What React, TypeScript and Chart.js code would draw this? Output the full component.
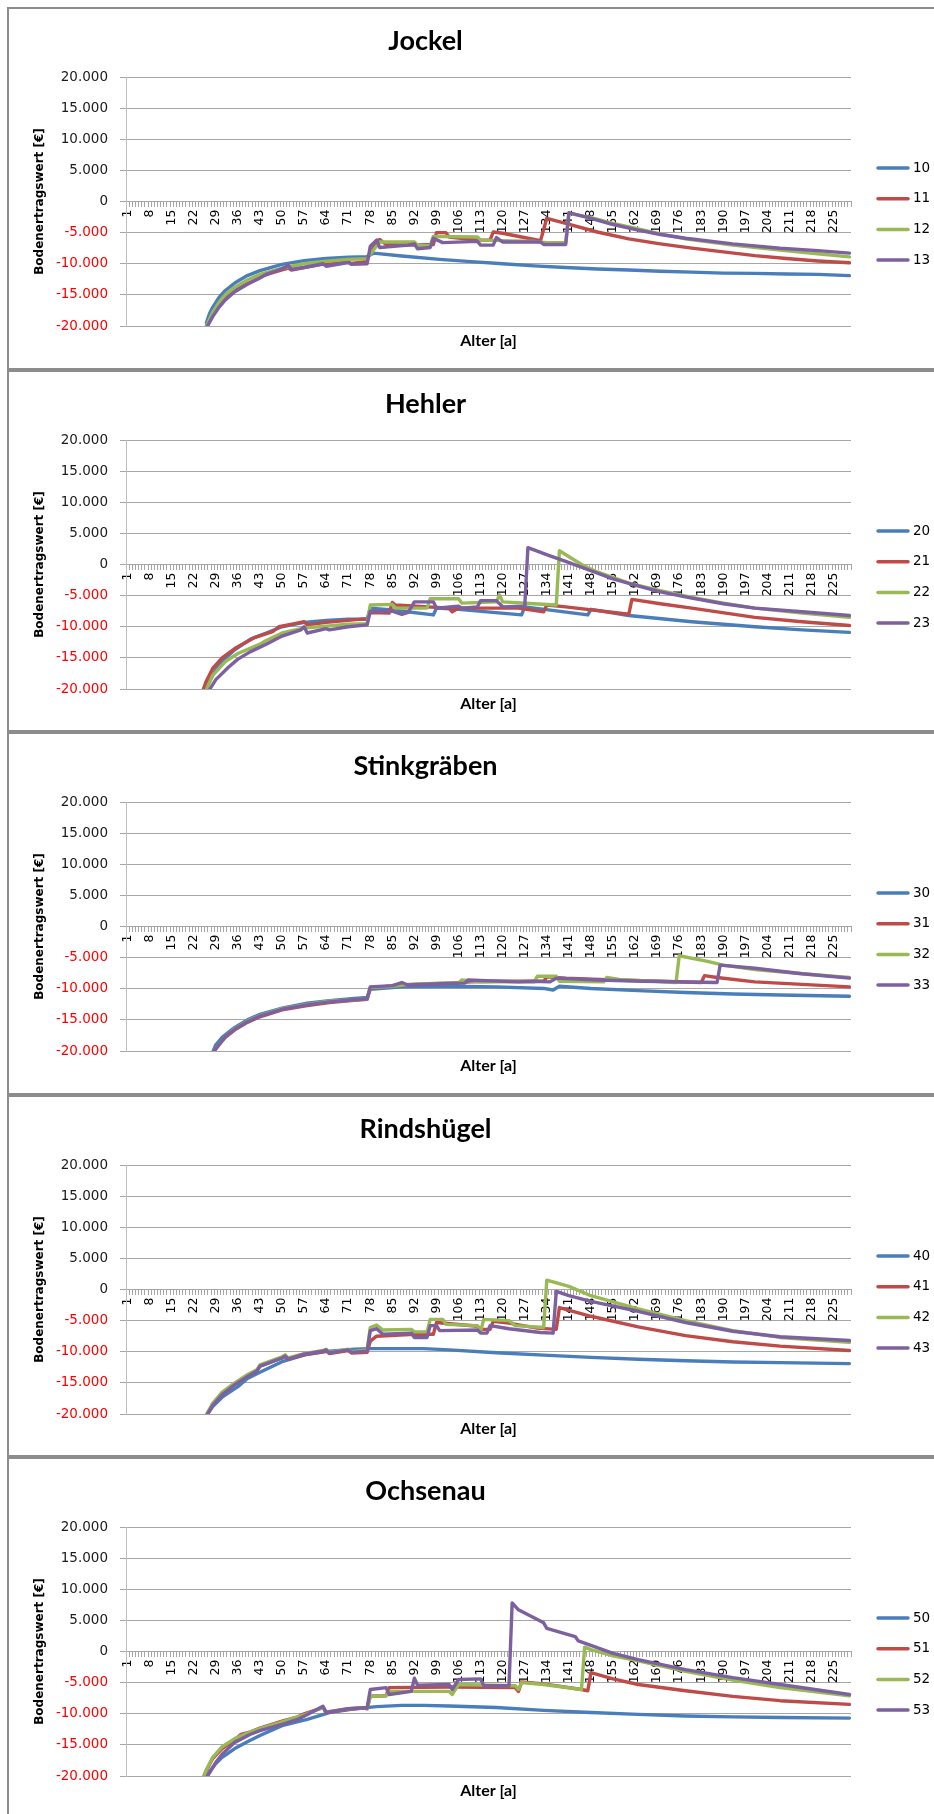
import React, { useEffect, useRef } from 'react';
import { Chart, registerables } from 'chart.js';

Chart.register(...registerables);

// ---------- categories / tick labels ----------
const ages: number[] = Array.from({ length: 230 }, (_, i) => i + 1);
const shownAgeLabels = [1, 8, 15, 22, 29, 36, 43, 50, 57, 64, 71, 78, 85, 92, 99, 106, 113, 120, 127, 134, 141, 148, 155, 162, 169, 176, 183, 190, 197, 204, 211, 218, 225];
const yTickValues = [-20000, -15000, -10000, -5000, 0, 5000, 10000, 15000, 20000];
const seriesColors = ['#4A7EBB', '#BE4B48', '#98B954', '#7D60A0'];

// ---------- Jockel ----------
const jockel10 = [[26,-19500],[27,-18000],[28,-17000],[30,-15400],[32,-14300],[35,-13100],[39,-11900],[43,-11100],[50,-10100],[57,-9500],[64,-9150],[71,-8950],[77,-8850],[79,-8300],[88,-8750],[100,-9300],[110,-9650],[120,-10000],[130,-10350],[140,-10600],[150,-10850],[160,-11000],[170,-11200],[180,-11350],[190,-11500],[200,-11550],[210,-11650],[220,-11700],[230,-11900]];
const jockel11 = [[26,-20300],[28,-18300],[30,-16700],[32,-15500],[35,-14300],[39,-13200],[42,-12500],[43,-12100],[46,-11600],[50,-11000],[52,-10700],[53,-11000],[57,-10600],[63,-10050],[66,-10000],[71,-9700],[72,-9950],[76,-9700],[78,-8400],[80,-6300],[81,-6100],[83,-6900],[92,-7000],[98,-6900],[99,-5000],[102,-5000],[103,-5700],[112,-6200],[116,-6200],[117,-4900],[120,-5100],[130,-6100],[132,-6300],[134,-2700],[140,-3500],[150,-4900],[160,-6000],[170,-6800],[180,-7500],[190,-8100],[200,-8700],[210,-9150],[220,-9550],[230,-9850]];
const jockel12 = [[26,-20000],[28,-17800],[30,-16200],[32,-15000],[35,-13800],[39,-12600],[43,-11700],[50,-10700],[57,-10000],[64,-9600],[71,-9300],[77,-9200],[79,-7800],[81,-6500],[92,-6500],[93,-7100],[97,-7100],[98,-5600],[112,-5700],[113,-6200],[130,-6400],[134,-6600],[140,-6600],[141,-1900],[148,-2600],[155,-3500],[163,-4400],[170,-5200],[178,-6000],[193,-7000],[208,-7800],[220,-8400],[230,-8900]];
const jockel13 = [[26,-20300],[28,-18500],[30,-17000],[32,-15800],[35,-14500],[39,-13300],[43,-12300],[45,-11700],[50,-10800],[52,-10300],[53,-10900],[57,-10600],[63,-10000],[64,-10400],[71,-9800],[72,-10100],[77,-10000],[78,-7200],[80,-6200],[81,-7400],[90,-7000],[92,-6800],[93,-7600],[97,-7400],[98,-5900],[101,-6600],[112,-6400],[113,-7000],[117,-7000],[118,-5800],[120,-6500],[132,-6500],[133,-6900],[140,-6900],[141,-1800],[148,-2700],[155,-3700],[163,-4600],[170,-5300],[178,-5900],[193,-6800],[208,-7500],[220,-7900],[230,-8300]];

// ---------- Hehler ----------
const hehler20 = [[26,-19800],[27,-18700],[30,-16000],[35,-13700],[40,-12000],[45,-11000],[50,-10000],[57,-9300],[64,-9000],[71,-8800],[77,-8800],[78,-7000],[85,-7300],[98,-8100],[99,-7000],[106,-7200],[126,-8100],[127,-6800],[147,-8100],[148,-7200],[160,-8200],[180,-9200],[200,-10000],[215,-10500],[230,-10900]];
const hehler21 = [[25,-20100],[26,-18700],[28,-16700],[31,-15000],[35,-13500],[41,-11800],[47,-10800],[49,-10000],[54,-9500],[57,-9200],[58,-9700],[64,-9300],[77,-8700],[78,-7700],[84,-7800],[85,-6100],[86,-6500],[103,-7000],[104,-7600],[106,-7000],[125,-7000],[133,-7600],[134,-6500],[140,-6800],[160,-8000],[161,-5600],[170,-6300],[180,-7000],[200,-8500],[215,-9200],[230,-9800]];
const hehler22 = [[26,-20100],[28,-17800],[32,-15600],[36,-14300],[43,-12800],[45,-12200],[50,-11000],[57,-10200],[64,-9900],[71,-9600],[77,-9500],[78,-6500],[85,-6400],[86,-7000],[96,-7000],[97,-5500],[106,-5500],[107,-6200],[118,-6000],[119,-4900],[120,-6000],[130,-6300],[137,-6500],[138,2200],[145,0],[150,-1200],[160,-3000],[170,-4200],[180,-5300],[190,-6200],[200,-7000],[215,-7800],[230,-8500]];
const hehler23 = [[27,-20100],[29,-18500],[33,-16500],[36,-15200],[40,-14000],[45,-12800],[50,-11500],[56,-10500],[57,-10000],[58,-11000],[64,-10300],[65,-10500],[71,-10000],[77,-9700],[78,-7500],[85,-7500],[88,-8000],[90,-7700],[92,-6000],[98,-6000],[99,-7000],[106,-6700],[107,-7000],[112,-6800],[113,-5800],[118,-5800],[120,-6800],[127,-6700],[128,2700],[135,1400],[140,500],[148,-1000],[155,-2300],[162,-3300],[170,-4400],[180,-5400],[190,-6300],[200,-7000],[215,-7600],[230,-8200]];

// ---------- Stinkgräben ----------
const stink30 = [[28,-20200],[29,-19000],[31,-17800],[35,-16200],[39,-15000],[43,-14100],[50,-13100],[58,-12300],[65,-11900],[72,-11600],[77,-11400],[78,-10100],[88,-9700],[103,-9600],[118,-9700],[133,-9950],[136,-10200],[138,-9600],[148,-9950],[163,-10300],[178,-10600],[193,-10850],[208,-11000],[230,-11200]];
const stink31 = [[28,-20300],[30,-19000],[32,-17800],[35,-16600],[39,-15400],[43,-14500],[50,-13400],[58,-12700],[65,-12200],[72,-11900],[77,-11700],[78,-9900],[88,-9400],[103,-9100],[110,-8900],[118,-8800],[133,-8800],[134,-8100],[140,-8300],[155,-8600],[170,-8800],[183,-9000],[184,-7900],[188,-8200],[200,-8900],[215,-9300],[230,-9700]];
const stink32 = [[28,-20300],[30,-19000],[32,-17700],[35,-16400],[39,-15200],[43,-14300],[50,-13200],[58,-12500],[65,-12000],[72,-11800],[77,-11600],[78,-9800],[85,-9600],[90,-9300],[100,-9100],[106,-9100],[107,-8600],[113,-8900],[130,-8900],[131,-8000],[137,-8000],[138,-8800],[152,-8900],[153,-8200],[157,-8500],[175,-9000],[176,-4700],[185,-5600],[190,-6200],[200,-6900],[215,-7600],[230,-8200]];
const stink33 = [[28,-20300],[30,-19000],[32,-17700],[35,-16500],[39,-15300],[43,-14400],[50,-13300],[58,-12600],[65,-12100],[72,-11800],[77,-11600],[78,-9700],[85,-9500],[88,-9000],[90,-9400],[100,-9200],[108,-9100],[109,-8600],[125,-8900],[130,-8800],[135,-8900],[137,-8300],[150,-8600],[165,-8800],[188,-9000],[189,-6200],[200,-6700],[215,-7600],[230,-8300]];

// ---------- Rindshügel ----------
const rinds40 = [[26,-20300],[28,-18800],[31,-17300],[36,-15600],[39,-14300],[43,-13300],[50,-11600],[58,-10400],[65,-9900],[73,-9600],[78,-9500],[95,-9500],[103,-9700],[118,-10150],[133,-10550],[148,-10900],[163,-11200],[178,-11450],[193,-11650],[208,-11750],[230,-11900]];
const rinds41 = [[26,-20300],[28,-18500],[31,-16900],[35,-15200],[39,-13900],[42,-13100],[43,-12300],[50,-11000],[51,-10700],[52,-11200],[57,-10500],[63,-10000],[64,-9800],[65,-10300],[71,-9800],[72,-10200],[77,-10100],[78,-8300],[80,-7500],[92,-7200],[98,-7200],[99,-5300],[112,-5900],[113,-6400],[116,-6400],[117,-5100],[122,-5400],[131,-6200],[137,-6400],[138,-2900],[148,-4300],[163,-6000],[178,-7400],[193,-8400],[208,-9100],[230,-9800]];
const rinds42 = [[26,-20100],[28,-18300],[31,-16500],[35,-15000],[39,-13700],[42,-12900],[43,-12100],[50,-10800],[51,-10500],[52,-11000],[57,-10300],[63,-9800],[64,-9600],[65,-10100],[71,-9600],[72,-10000],[77,-9700],[78,-6100],[80,-5700],[82,-6500],[91,-6400],[92,-6800],[96,-6800],[97,-4800],[101,-4800],[102,-5600],[112,-5800],[113,-6700],[114,-4800],[122,-5000],[124,-5800],[133,-6100],[134,1500],[141,500],[148,-1000],[155,-2000],[163,-3100],[178,-5000],[193,-6600],[208,-7700],[230,-8500]];
const rinds43 = [[26,-20300],[28,-18600],[31,-16900],[35,-15300],[39,-14000],[42,-13100],[43,-12300],[50,-11000],[51,-10700],[52,-11200],[57,-10400],[63,-9900],[64,-9700],[65,-10200],[71,-9700],[72,-10100],[77,-9900],[78,-6600],[80,-6300],[82,-7200],[91,-7000],[92,-7700],[96,-7700],[97,-5800],[99,-5800],[100,-6600],[112,-6500],[113,-7000],[115,-7000],[116,-5800],[122,-6300],[132,-6900],[136,-7000],[137,-300],[141,-1000],[148,-1900],[163,-3500],[178,-5300],[193,-6700],[208,-7600],[230,-8200]];

// ---------- Ochsenau ----------
const ochs50 = [[26,-20300],[27,-19300],[29,-18000],[31,-17000],[35,-15600],[39,-14500],[43,-13500],[50,-11900],[58,-10900],[65,-9800],[73,-9200],[80,-8850],[88,-8650],[95,-8650],[103,-8750],[118,-9000],[133,-9450],[148,-9800],[163,-10100],[178,-10350],[193,-10500],[208,-10600],[230,-10700]];
const ochs51 = [[25,-20300],[26,-19100],[28,-17200],[31,-15600],[35,-14200],[37,-13300],[40,-12900],[43,-12300],[50,-11200],[55,-10500],[57,-10000],[63,-9000],[64,-9800],[71,-9300],[76,-9100],[77,-9200],[78,-7200],[83,-7100],[84,-5800],[104,-5700],[124,-5800],[125,-6400],[126,-4900],[133,-5200],[145,-6100],[147,-6300],[148,-3400],[155,-4400],[163,-5300],[178,-6300],[193,-7200],[208,-7900],[230,-8500]];
const ochs52 = [[25,-20300],[26,-19000],[28,-17000],[31,-15300],[35,-14000],[40,-12900],[43,-12400],[50,-11300],[57,-10200],[63,-9000],[64,-9700],[71,-9200],[77,-9000],[78,-7200],[83,-7100],[84,-6400],[103,-6400],[104,-6900],[106,-5300],[124,-5500],[125,-6100],[126,-5000],[133,-5300],[145,-6100],[146,700],[148,300],[155,-700],[163,-1500],[178,-3200],[193,-4600],[208,-5800],[230,-7100]];
const ochs53 = [[26,-20300],[27,-19500],[29,-17800],[31,-16500],[35,-14600],[40,-13300],[43,-12700],[50,-11700],[55,-10900],[57,-10400],[63,-8800],[64,-9800],[71,-9200],[77,-9000],[78,-6100],[83,-5800],[84,-6900],[91,-6400],[92,-4300],[93,-5400],[103,-5300],[104,-6100],[106,-4500],[113,-4400],[114,-5500],[122,-5500],[123,7800],[125,6700],[133,4600],[134,3700],[143,2400],[144,1700],[148,1000],[155,-300],[163,-1300],[178,-2900],[193,-4200],[208,-5300],[230,-6900]];

const panelTitles = ['Jockel', 'Hehler', 'Stinkgräben', 'Rindshügel', 'Ochsenau'];
const panelSeriesNames = [['10', '11', '12', '13'], ['20', '21', '22', '23'], ['30', '31', '32', '33'], ['40', '41', '42', '43'], ['50', '51', '52', '53']];
const panelSeries = [
  [jockel10, jockel11, jockel12, jockel13],
  [hehler20, hehler21, hehler22, hehler23],
  [stink30, stink31, stink32, stink33],
  [rinds40, rinds41, rinds42, rinds43],
  [ochs50, ochs51, ochs52, ochs53],
];

// ---------- layout ----------
const panelTops = [7, 370, 732, 1095, 1457];
const panelHeights = [363, 362, 363, 362, 363];
const CANVAS_W = 934;
const PLOT_LEFT = 126;
const PLOT_RIGHT = 851;
const PLOT_TOP = 70;
const PLOT_BOTTOM_FROM_TOP = 319;

function fmtThousands(v: number): string {
  const s = String(Math.abs(Math.round(v))).replace(/\B(?=(\d{3})+(?!\d))/g, '.');
  return (v < 0 ? '-' : '') + s;
}

const overlayPlugin = {
  id: 'overlay',
  afterDraw(chart: any) {
    const { ctx, chartArea } = chart;
    ctx.save();
    ctx.font = 'bold 16px Lato';
    ctx.fillStyle = '#000';
    ctx.textAlign = 'center';
    ctx.textBaseline = 'middle';
    ctx.fillText('Alter [a]', (chartArea.left + chartArea.right) / 2, chartArea.bottom + 15);
    chart.data.datasets.forEach((ds: any, i: number) => {
      const y = 161 + i * 30.7;
      ctx.strokeStyle = ds.borderColor;
      ctx.lineWidth = 3.5;
      ctx.lineCap = 'round';
      ctx.beginPath();
      ctx.moveTo(878, y);
      ctx.lineTo(908, y);
      ctx.stroke();
      ctx.font = '13.5px "DejaVu Sans"';
      ctx.fillStyle = '#000';
      ctx.textAlign = 'left';
      ctx.textBaseline = 'middle';
      ctx.fillText(ds.label, 913, y);
    });
    ctx.restore();
  },
};

function Panel({ idx }: { idx: number }) {
  const ref = useRef<HTMLCanvasElement | null>(null);
  const h = panelHeights[idx];
  useEffect(() => {
    if (!ref.current) return;
    const datasets = panelSeries[idx].map((s, i) => ({
      label: panelSeriesNames[idx][i],
      data: s.map(([x, y]) => ({ x, y })),
      borderColor: seriesColors[i],
      backgroundColor: seriesColors[i],
      borderWidth: 3.4,
      pointRadius: 0,
      tension: 0,
      borderJoinStyle: 'round' as const,
      borderCapStyle: 'round' as const,
      order: 3 - i,
    }));
    const chart = new Chart(ref.current, {
      type: 'line',
      data: { labels: ages, datasets },
      plugins: [overlayPlugin],
      options: {
        animation: false,
        responsive: false,
        events: [],
        layout: { padding: { left: 0, right: CANVAS_W - PLOT_RIGHT, top: 0, bottom: h - PLOT_BOTTOM_FROM_TOP } },
        plugins: {
          legend: { display: false },
          tooltip: { enabled: false },
          title: {
            display: true,
            text: panelTitles[idx],
            color: '#000',
            font: { family: 'Lato', weight: 'bold', size: 27, lineHeight: 1.2 },
            padding: { top: 17.6, bottom: PLOT_TOP - 17.6 - 32.4 },
          },
        },
        scales: {
          x: {
            type: 'category',
            position: { y: 0 } as any,
            offset: true,
            grid: { offset: true, drawOnChartArea: false, drawTicks: true, tickLength: 5, color: '#A6A6A6', lineWidth: 1 },
            border: { display: true, color: '#A6A6A6' },
            ticks: {
              autoSkip: false,
              minRotation: 90,
              maxRotation: 90,
              padding: 3,
              color: '#000',
              font: { family: 'DejaVu Sans', size: 12.5 },
              callback: (_v: any, i: number) => (shownAgeLabels.includes(ages[i]) ? String(ages[i]) : ''),
            },
          },
          y: {
            min: yTickValues[0],
            max: yTickValues[yTickValues.length - 1],
            afterBuildTicks: (s: any) => { s.ticks = yTickValues.map((v) => ({ value: v })); },
            afterFit: (s: any) => { s.width = PLOT_LEFT; },
            ticks: {
              color: (c: any) => (c.tick && c.tick.value < 0 ? '#FF0000' : '#1a1a1a'),
              font: { family: 'DejaVu Sans', size: 13.5 },
              padding: 12,
              callback: (v: any) => fmtThousands(Number(v)),
            },
            grid: { color: '#A6A6A6', lineWidth: 1, tickLength: 6, drawTicks: true },
            border: { display: true, color: '#BFBFBF' },
            title: {
              display: true,
              text: 'Bodenertragswert [€]',
              color: '#000',
              font: { family: 'DejaVu Sans', weight: 'bold', size: 12, lineHeight: 1.2 },
              padding: { top: 33, bottom: 0 },
            },
          },
        },
      },
    });
    return () => chart.destroy();
  }, [idx, h]);
  return (
    <canvas
      ref={ref}
      width={CANVAS_W}
      height={h}
      style={{ position: 'absolute', left: 0, top: panelTops[idx], width: CANVAS_W, height: h }}
    />
  );
}

export default function App() {
  return (
    <div style={{ position: 'absolute', left: 0, top: 0, width: 934, height: 1814, overflow: 'hidden', background: '#fff' }}>
      {panelTops.map((t, i) => (
        <div
          key={'b' + i}
          style={{ position: 'absolute', left: 7, top: t, width: 960, height: panelHeights[i], border: '2px solid #8C8C8C', boxSizing: 'border-box' }}
        />
      ))}
      {panelTops.map((_, i) => (
        <Panel key={'p' + i} idx={i} />
      ))}
    </div>
  );
}
